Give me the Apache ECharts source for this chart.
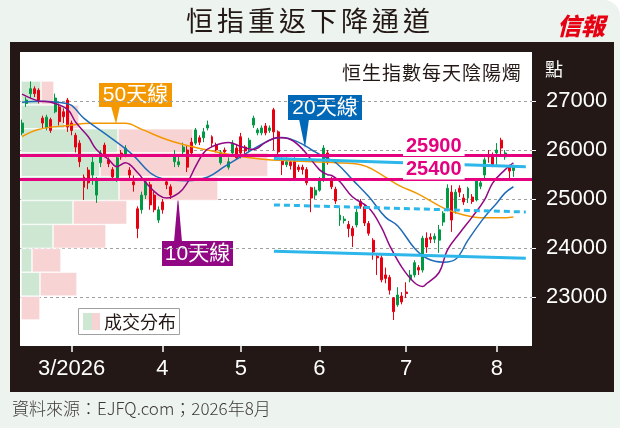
<!DOCTYPE html>
<html>
<head>
<meta charset="utf-8">
<script src="https://cdn.jsdelivr.net/npm/echarts@6/dist/echarts.min.js"></script>
<style>
  html, body { margin: 0; padding: 0; background: #fff; }
  #page { position: relative; width: 620px; height: 428px; background: #edf3ee; border-top-right-radius: 16px; overflow: hidden; font-family: "Noto Sans CJK TC", sans-serif; }
  #frame { position: absolute; left: 10px; top: 42px; width: 604px; height: 350px; background: #231815; }
  #chart { position: absolute; left: 0; top: 0; width: 620px; height: 428px; }
  .txt { position: absolute; white-space: nowrap; line-height: 1; }
  #title { left: 186px; top: 6px; font-size: 27px; letter-spacing: 4px; color: #231815; font-weight: 400; }
  #logo { left: 557px; top: 13px; font-size: 24px; color: #e60012; font-weight: 900; font-style: italic; }
  #sub { right: 98px; top: 62px; font-size: 19px; letter-spacing: 1px; color: #231815; }
  #unit { left: 545px; top: 59px; font-size: 18px; color: #fff; }
  #source { left: 12px; top: 399px; font-size: 17px; color: #3e3a39; font-weight: 300; }
</style>
</head>
<body>
<div id="page">
  <div id="frame"></div>
  <div id="chart"></div>
  <div class="txt" id="title">恒指重返下降通道</div>
  <div class="txt" id="logo">信報</div>
  <div class="txt" id="sub">恒生指數每天陰陽燭</div>
  <div class="txt" id="unit">點</div>
  <div class="txt" id="source">資料來源：EJFQ.com；2026年8月</div>
</div>
<script>
// trading calendar (HK holidays skipped), 4 spare slots after the last candle
const holidays = ['2026-02-17', '2026-02-18', '2026-02-19', '2026-04-03', '2026-04-06', '2026-04-07',
  '2026-05-01', '2026-05-25', '2026-06-19', '2026-07-01'];
const monthLabels = { '2026-03-02': '3/2026', '2026-04-01': '4', '2026-05-04': '5', '2026-06-01': '6', '2026-07-02': '7', '2026-08-03': '8' };

function buildDates(start, n) {
  const out = [];
  const d = new Date(start + 'T00:00:00Z');
  while (out.length < n) {
    const s = d.toISOString().slice(0, 10);
    const wd = d.getUTCDay();
    if (wd !== 0 && wd !== 6 && holidays.indexOf(s) < 0) out.push(s);
    d.setUTCDate(d.getUTCDate() + 1);
  }
  return out;
}
const dates = buildDates('2026-02-09', 124);

// daily candles: [open, close, low, high]
const ohlc = [
  [26350, 26550, 26300, 26620], [26950, 27020, 26880, 27080], [27150, 27250, 27050, 27400], [27250, 27150, 27080, 27300],
  [27220, 27020, 26950, 27260], [26650, 26550, 26450, 26700], [26450, 26670, 26400, 26720], [26620, 26400, 26350, 26660],
  [26780, 27060, 26750, 27150], [26880, 26580, 26500, 26950], [26780, 26680, 26550, 26850], [27020, 26470, 26370, 27060],
  [26550, 26400, 26300, 26600], [26300, 26060, 25950, 26350], [26140, 25760, 25650, 26200], [25450, 25240, 24980, 25500],
  [25590, 25330, 25200, 25650], [25490, 25750, 25290, 25860], [25080, 25390, 24920, 25450], [25740, 25940, 25650, 26000],
  [26100, 25900, 25850, 26150], [25800, 25720, 25650, 25850], [25600, 25450, 25380, 25650], [25430, 25840, 25350, 25900],
  [25940, 25860, 25800, 26000], [25900, 26040, 25850, 26100], [25590, 25490, 25400, 25650], [25350, 25290, 25150, 25480],
  [24800, 24400, 24200, 24850], [24780, 25080, 24700, 25150], [25080, 25350, 25000, 25400], [25290, 24880, 24780, 25350],
  [25080, 24780, 24730, 25150], [24570, 24780, 24510, 24850], [24940, 24780, 24700, 25000], [25350, 25290, 25200, 25400],
  [25250, 25080, 25000, 25300], [25760, 25900, 25650, 26000], [25700, 25760, 25650, 25900], [25960, 26060, 25900, 26150],
  [26000, 25650, 25550, 26100], [26160, 25940, 25900, 26250], [26140, 26410, 26100, 26450], [26250, 26160, 26100, 26300],
  [26250, 26370, 26160, 26450], [26450, 26510, 26400, 26600], [26270, 26140, 26050, 26300], [26100, 26000, 25950, 26150],
  [25740, 25960, 25700, 26000], [26000, 25960, 25900, 26050], [25650, 25760, 25600, 25850], [25940, 26140, 25900, 26200],
  [26040, 25840, 25800, 26100], [26270, 25940, 25830, 26350], [26060, 25980, 25900, 26100], [26040, 26200, 25950, 26250],
  [26510, 26650, 26450, 26700], [26350, 26410, 26300, 26450], [26350, 26450, 26300, 26500], [26490, 26350, 26300, 26550],
  [26400, 26450, 26350, 26500], [26820, 26370, 26000, 26860], [26370, 25960, 25860, 26400], [25800, 25700, 25490, 25850],
  [25700, 25760, 25650, 25850], [25760, 25680, 25600, 25800], [25780, 25430, 25380, 25850], [25650, 25600, 25550, 25700],
  [25650, 25600, 25500, 25700], [25600, 25330, 25280, 25650], [25230, 25020, 24730, 25250], [25080, 25180, 25000, 25250],
  [25180, 25390, 25150, 25450], [25390, 26040, 25350, 26100], [25940, 25740, 25700, 26000], [25390, 25250, 25200, 25450],
  [25200, 24960, 24900, 25250], [24570, 24670, 24450, 24820], [24560, 24590, 24500, 24650], [24480, 24400, 24220, 24550],
  [24400, 24250, 24020, 24450], [24470, 24730, 24420, 24800], [24950, 24850, 24800, 25000], [24840, 24510, 24450, 24900],
  [24500, 24300, 24250, 24550], [24160, 23920, 23760, 24200], [23830, 23800, 23450, 23880], [23800, 23350, 23300, 23850],
  [23450, 23380, 23280, 23600], [23400, 23140, 23050, 23450], [22980, 22700, 22530, 23000], [22840, 23040, 22800, 23200],
  [23020, 22900, 22850, 23100], [23100, 23070, 22980, 23300], [23350, 23450, 23300, 23550], [23450, 23700, 23400, 23750],
  [23600, 23550, 23450, 23650], [23550, 24200, 23500, 24250], [24200, 24020, 23900, 24320], [24220, 24180, 24100, 24300],
  [24180, 24240, 24100, 24300], [24160, 24370, 23900, 24470], [24530, 24710, 24450, 24750], [24820, 25220, 24750, 25300],
  [25140, 24570, 24330, 25280], [24780, 25140, 24700, 25200], [25220, 25140, 25040, 25280], [25020, 24940, 24880, 25100],
  [25020, 25220, 24920, 25250], [25040, 24950, 24900, 25100], [24980, 25390, 24950, 25420], [25260, 25330, 25200, 25400],
  [25490, 25800, 25400, 25850], [25900, 25860, 25740, 26000], [25890, 25700, 25650, 25950], [25940, 26000, 25660, 26140],
  [26200, 26040, 25860, 26250], [25860, 25940, 25800, 26000], [25650, 25570, 25420, 25700], [25580, 25660, 25450, 25700]
];

// moving averages: [day index, level]
const ma10 = [[0, 27140], [4, 27000], [7, 26975], [11, 26830], [13, 26565], [16, 26275], [18, 26010], [21, 25805], [23, 25660],
  [25, 25740], [28, 25535], [30, 25330], [33, 25085], [35, 25020], [38, 25125], [40, 25330], [42, 25660], [44, 25945],
  [46, 26070], [50, 26155], [53, 26070], [56, 26010], [59, 26155], [62, 26255], [65, 26215], [68, 26010], [72, 25600],
  [74, 25495], [75, 25480], [77, 25350], [80, 25045], [84, 24815], [87, 24425], [89, 24055], [92, 23605], [95, 23295],
  [97, 23215], [98, 23275], [101, 23500], [103, 23955], [106, 24305], [109, 24630], [112, 24980], [114, 25330], [117, 25600], [119, 25740]];
const ma20 = [[0, 26975], [5, 26995], [10, 26960], [12, 26910], [15, 26645], [20, 26340], [23, 26155], [27, 25885], [31, 25535],
  [34, 25415], [40, 25375], [45, 25450], [49, 25660], [53, 25865], [57, 26070], [61, 26235], [63, 26255], [67, 26155],
  [70, 26010], [73, 25865], [76, 25740], [80, 25395], [84, 25045], [88, 24630], [91, 24450], [95, 24000], [98, 23790],
  [102, 23710], [105, 23770], [108, 24160], [112, 24630], [115, 24920], [117, 25125], [119, 25250]];
const ma50 = [[0, 26275], [4, 26420], [11, 26500], [17, 26545], [25, 26545], [29, 26420], [35, 26215], [41, 26070],
  [48, 25945], [53, 25865], [59, 25805], [69, 25765], [76, 25740], [82, 25700], [85, 25600], [91, 25290], [96, 25100],
  [102, 24820], [107, 24675], [112, 24615], [116, 24615], [119, 24635]];

// descending channel (start / end day index, level)
const channelTop = [[61, 25825], [122, 25660]];
const channelMid = [[61, 24880], [122, 24735]];
const channelLow = [[61, 23935], [122, 23790]];
const levels = [25900, 25400];
const yTicks = [23000, 24000, 25000, 26000, 27000];

// volume profile by price band, top to bottom (up-day / down-day volume, relative)
const bandLabels = ['27000', '26500', '26000', '25500', '25000', '24500', '24000', '23500', '23000', '22500'];
const upVol = [20, 44, 97, 79, 98, 52, 32, 11, 19, 0];
const downVol = [13, 14, 75, 168, 99, 54, 53, 29, 37, 19];

const narrow = '"Liberation Sans Narrow", "Liberation Sans", sans-serif';
const isMonthStart = (idx, val) => monthLabels[val] !== undefined;

const chart = echarts.init(document.getElementById('chart'));
chart.setOption({
  animation: false,
  grid: [
    { left: 20, top: 52, width: 512, height: 294, show: true, backgroundColor: '#fff', borderWidth: 0 },
    { left: 21, top: 81, width: 511, height: 239 }
  ],
  xAxis: [{
    gridIndex: 0,
    type: 'category',
    data: dates,
    boundaryGap: true,
    axisLine: { show: false },
    axisTick: { show: true, alignWithLabel: true, interval: isMonthStart, length: 6, lineStyle: { color: '#fff', width: 1.5 } },
    axisLabel: { interval: isMonthStart, formatter: v => monthLabels[v] || '', color: '#fff', fontSize: 22, fontFamily: narrow, margin: 12 },
    splitLine: { show: false }
  }, {
    gridIndex: 1, type: 'value', min: 0, max: 511, show: false
  }],
  yAxis: [{
    gridIndex: 0,
    type: 'value',
    position: 'right',
    min: 22000,
    max: 28000,
    interval: 1000,
    axisLine: { show: false },
    axisTick: { show: true, length: 4, lineStyle: { color: '#fff' } },
    axisLabel: { color: '#fff', fontSize: 22, fontFamily: narrow, margin: 14, showMinLabel: false, showMaxLabel: false, formatter: v => String(v) },
    splitLine: { show: false }
  }, {
    gridIndex: 1, type: 'category', data: bandLabels, inverse: true, show: false
  }],
  series: [{
    type: 'bar', xAxisIndex: 1, yAxisIndex: 1, stack: 'vol', data: upVol,
    barCategoryGap: 0, itemStyle: { color: '#cde7d3', borderColor: '#fff', borderWidth: 0.6 }, silent: true
  }, {
    type: 'bar', xAxisIndex: 1, yAxisIndex: 1, stack: 'vol', data: downVol,
    barCategoryGap: 0, itemStyle: { color: '#f8d3d4', borderColor: '#fff', borderWidth: 0.6 }, silent: true
  }, {
    type: 'candlestick',
    data: ohlc,
    barWidth: '60%',
    itemStyle: { color: '#009944', color0: '#e60012', borderColor: '#009944', borderColor0: '#e60012', borderWidth: 1 },
    markLine: {
      z: 1, silent: true, symbol: ['none', 'none'], label: { show: false },
      lineStyle: { color: '#a0a0a0', width: 1, type: [3, 3] },
      data: yTicks.map(v => ({ yAxis: v }))
    }
  }, {
    type: 'line', data: ma50, smooth: 0.4, showSymbol: false, z: 3,
    lineStyle: { color: '#f39800', width: 1.5 }
  }, {
    type: 'line', data: ma20, smooth: 0.4, showSymbol: false, z: 3,
    lineStyle: { color: '#1f6bb8', width: 1.5 }
  }, {
    type: 'line', data: ma10, smooth: 0.4, showSymbol: false, z: 3,
    lineStyle: { color: '#920783', width: 1.5 }
  }, {
    type: 'line', data: channelTop, showSymbol: false, z: 4,
    lineStyle: { color: '#2cb6e9', width: 3 }
  }, {
    type: 'line', data: channelMid, showSymbol: false, z: 4,
    lineStyle: { color: '#2cb6e9', width: 3, type: [6, 4] }
  }, {
    type: 'line', data: channelLow, showSymbol: false, z: 4,
    lineStyle: { color: '#2cb6e9', width: 3 },
    markLine: {
      z: 6, silent: true, symbol: ['none', 'none'], label: { show: false },
      lineStyle: { color: '#e4007f', width: 3, type: 'solid' },
      data: levels.map(v => ({ yAxis: v }))
    }
  }],
  graphic: [
    // MA callouts
    { type: 'rect', shape: { x: 99, y: 83, width: 73, height: 24 }, style: { fill: '#f39800' } },
    { type: 'polygon', shape: { points: [[111, 106], [120, 106], [116, 124]] }, style: { fill: '#f39800' } },
    { type: 'text', x: 135.5, y: 95.5, style: { text: '50天線', fill: '#fff', font: '21px "Liberation Sans", "Noto Sans CJK TC"', align: 'center', verticalAlign: 'middle' } },
    { type: 'rect', shape: { x: 288, y: 95, width: 74, height: 25 }, style: { fill: '#0068b7' } },
    { type: 'polygon', shape: { points: [[299, 119], [309, 119], [305, 148]] }, style: { fill: '#0068b7' } },
    { type: 'text', x: 325, y: 108, style: { text: '20天線', fill: '#fff', font: '21px "Liberation Sans", "Noto Sans CJK TC"', align: 'center', verticalAlign: 'middle' } },
    { type: 'rect', shape: { x: 162, y: 241, width: 71, height: 25 }, style: { fill: '#920783' } },
    { type: 'polygon', shape: { points: [[174, 242], [182, 242], [178, 196]] }, style: { fill: '#920783' } },
    { type: 'text', x: 197.5, y: 254, style: { text: '10天線', fill: '#fff', font: '21px "Liberation Sans", "Noto Sans CJK TC"', align: 'center', verticalAlign: 'middle' } },
    // level labels
    { type: 'text', x: 403, y: 146, z: 95, style: { text: String(levels[0]), fill: '#e4007f', font: 'bold 20px "Liberation Sans"', verticalAlign: 'middle', backgroundColor: '#fff', padding: [0, 3] } },
    { type: 'text', x: 403, y: 169.5, z: 95, style: { text: String(levels[1]), fill: '#e4007f', font: 'bold 20px "Liberation Sans"', verticalAlign: 'middle', backgroundColor: '#fff', padding: [0, 3] } },
    // volume legend
    { type: 'rect', shape: { x: 78.5, y: 308.5, width: 101, height: 26 }, style: { fill: '#fff', stroke: '#a0a0a0', lineWidth: 1 } },
    { type: 'rect', shape: { x: 83, y: 313, width: 9, height: 17 }, style: { fill: '#cde7d3' } },
    { type: 'rect', shape: { x: 92, y: 313, width: 8, height: 17 }, style: { fill: '#f8d3d4' } },
    { type: 'text', x: 104, y: 322, style: { text: '成交分布', fill: '#231815', font: '18px "Noto Sans CJK TC"', verticalAlign: 'middle' } }
  ]
});
</script>
</body>
</html>
